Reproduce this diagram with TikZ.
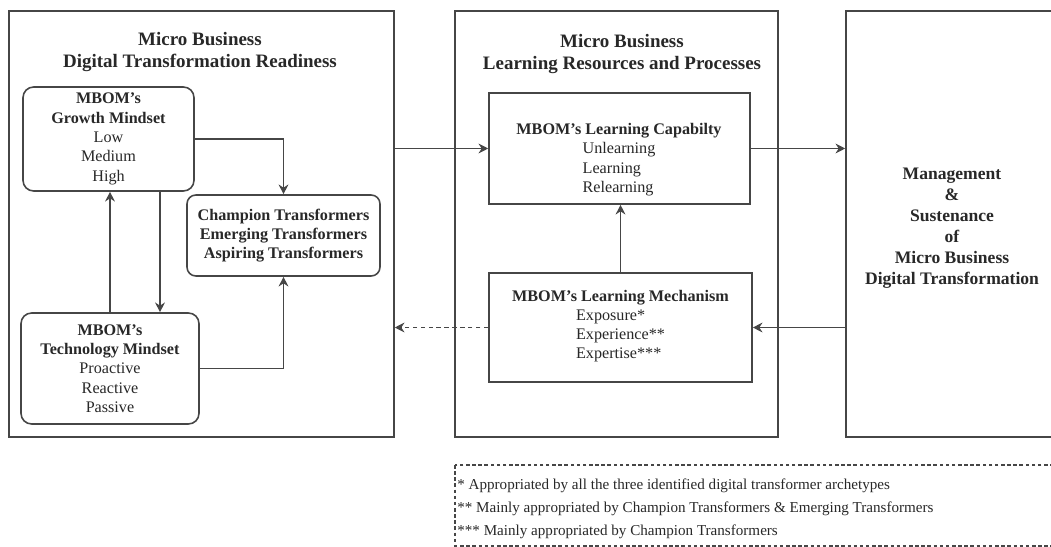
\documentclass[tikz,border=0pt]{standalone}
\usepackage{fontspec}
\setmainfont{Liberation Serif}
\usetikzlibrary{arrows.meta,positioning}
\definecolor{linegray}{RGB}{70,70,70}
\definecolor{inkgray}{RGB}{40,40,40}

\tikzset{
  panel/.style={draw=linegray, line width=0.9pt, inner sep=0pt},
  softbox/.style={draw=linegray, line width=0.9pt, rounded corners=6pt, inner sep=0pt, align=center},
  plainbox/.style={draw=linegray, line width=0.9pt, inner sep=0pt, align=center},
  flow/.style={->, draw=linegray, line width=0.8pt},
  boxfont/.style={font=\fontsize{9.2}{11}\selectfont, text=inkgray},
  titlefont/.style={font=\fontsize{10.8}{13}\selectfont\bfseries, text=inkgray, align=center}
}

\begin{document}
\begin{tikzpicture}[x=0.02cm, y=-0.02cm, >={Stealth[length=5.5pt,width=5.5pt]}]

  \useasboundingbox (0,0) rectangle (1051,547);
  \fill[white] (0,0) rectangle (1051,547);
  \clip (0,0) rectangle (1051,547);

  %% ── Outer panels ────────────────────────────────────────────────
  \node[panel, minimum width=7.70cm, minimum height=8.52cm] (ready) at (201.5,224) {};
  \node[panel, minimum width=6.46cm, minimum height=8.52cm] (learn) at (616.5,224) {};
  \node[panel, minimum width=4.68cm, minimum height=8.52cm] (mgmt) at (963,224) {};

  %% ── Panel titles ────────────────────────────────────────────────
  \node[titlefont] (readytitle) at (200,52)
    {Micro Business\\Digital Transformation Readiness};
  \node[titlefont] (learntitle) at (622,54)
    {Micro Business\\Learning Resources and Processes};
  \node[font=\fontsize{10}{12}\selectfont\bfseries, text=inkgray, align=center] (mgmttxt) at (952,228)
    {Management\\\&\\Sustenance\\of\\Micro Business\\Digital Transformation};

  %% ── Readiness boxes ─────────────────────────────────────────────
  \node[softbox, boxfont, minimum width=3.42cm, minimum height=2.08cm] (growth) at (108.5,139)
    {\textbf{MBOM's}\\\textbf{Growth Mindset}\\Low\\Medium\\High};
  \node[softbox, boxfont, rounded corners=5pt, minimum width=3.86cm, minimum height=1.62cm] (champ) at (283.5,235.5)
    {\textbf{Champion Transformers}\\\textbf{Emerging Transformers}\\\textbf{Aspiring Transformers}};
  \node[softbox, boxfont, minimum width=3.56cm, minimum height=2.22cm] (tech) at (110,368.5)
    {\textbf{MBOM's}\\\textbf{Technology Mindset}\\Proactive\\Reactive\\Passive};

  %% ── Learning boxes ──────────────────────────────────────────────
  \node[plainbox, minimum width=5.22cm, minimum height=2.22cm] (cap) at (619.5,148.5) {};
  \node[boxfont, align=center] (captxt) at (619,161)
    {\textbf{MBOM's Learning Capabilty}\\
     \begin{tabular}{@{}l@{}}Unlearning\\Learning\\Relearning\end{tabular}};
  \node[plainbox, boxfont, minimum width=5.26cm, minimum height=2.18cm] (mech) at (620.5,327.5)
    {\textbf{MBOM's Learning Mechanism}\\
     \begin{tabular}{@{}l@{}}Exposure*\\Experience**\\Expertise***\end{tabular}};

  %% ── Connectors ──────────────────────────────────────────────────
  \coordinate (gdown) at (160,0);
  \draw[flow] (growth.east) -| (champ.north);
  \draw[flow] (tech.east) -| (champ.south);
  \draw[flow] (tech.north) -- (tech.north |- growth.south);
  \draw[flow] (growth.south -| gdown) -- (tech.north -| gdown);
  \draw[flow] (ready.east |- cap.west) -- (cap.west);
  \draw[flow] (cap.east) -- (cap.east -| mgmt.west);
  \draw[flow] (mech.north) -- (mech.north |- cap.south);
  \draw[flow] (mech.east -| mgmt.west) -- (mech.east);
  \draw[flow, dash pattern=on 2.5pt off 2pt] (mech.west) -- (mech.west -| ready.east);

  %% ── Footnotes ───────────────────────────────────────────────────
  \draw[linegray, line width=0.6pt, dash pattern=on 2pt off 1.5pt]
    (455,465) rectangle (1070,546);
  \node[font=\fontsize{8.6}{13}\selectfont, text=inkgray, align=left, anchor=north west, inner sep=0pt] (notes) at (457,479)
    {* Appropriated by all the three identified digital transformer archetypes\\
     ** Mainly appropriated by Champion Transformers \& Emerging Transformers\\
     *** Mainly appropriated by Champion Transformers};

\end{tikzpicture}
\end{document}
